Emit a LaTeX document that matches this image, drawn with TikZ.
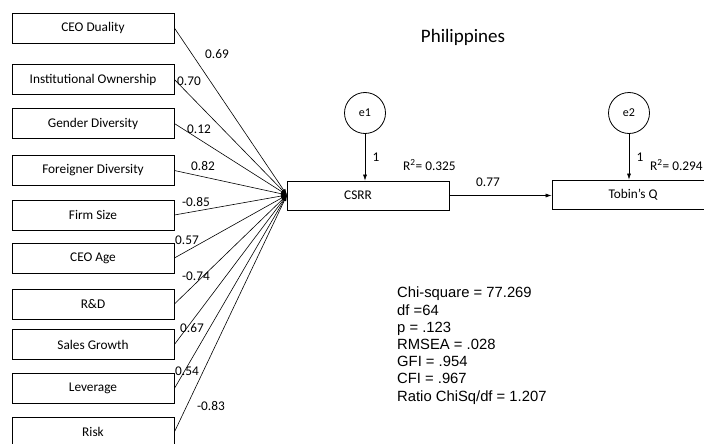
\documentclass[tikz,border=0pt]{standalone}
\usepackage{fontspec}
\setmainfont{Carlito}
\newfontfamily\statfont{Liberation Sans}
\usetikzlibrary{arrows.meta}
\begin{document}
\begin{tikzpicture}[x=1pt,y=-1pt,
  varbox/.style={draw,line width=0.8pt,minimum width=162pt,minimum height=30pt,inner sep=0pt,font=\fontsize{13.3}{15}\selectfont},
  errc/.style={draw,circle,line width=0.8pt,minimum size=41pt,inner sep=0pt,font=\fontsize{12}{14}\selectfont},
  lbl/.style={inner sep=0pt,font=\fontsize{13.3}{15}\selectfont},
  path/.style={line width=0.6pt,-{Latex[length=6pt,width=4pt]}}]
\useasboundingbox (0,0) rectangle (704,444);
\clip (0,0) rectangle (704,444);
\fill[white] (0,0) rectangle (704,444);
% left variable boxes
\node[varbox] (v1) at (93,28) {CEO Duality};
\node[varbox] (v2) at (93,79.5) {Institutional Ownership};
\node[varbox] (v3) at (93,123.5) {Gender Diversity};
\node[varbox] (v4) at (93,170.5) {Foreigner Diversity};
\node[varbox] (v5) at (93,215) {Firm Size};
\node[varbox] (v6) at (93,258) {CEO Age};
\node[varbox] (v7) at (93,304) {R\&D};
\node[varbox] (v8) at (93,344.5) {Sales Growth};
\node[varbox] (v9) at (93,388.5) {Leverage};
\node[varbox] (v10) at (93,432) {Risk};
% outcome boxes
\node[draw,line width=0.8pt,minimum width=162pt,minimum height=29pt,inner sep=0pt] (csrr) at (368,195.5) {};
\node[lbl] (csrrt) at (358,195.5) {CSRR};
\node[draw,line width=0.8pt,minimum width=162pt,minimum height=29pt,inner sep=0pt] (tq) at (633,194.5) {};
\node[lbl] (tqt) at (633,194.5) {Tobin's Q};
\coordinate (conv) at (287,195);
% paths from predictors
\foreach \i in {1,...,10} \draw[path] (v\i.east) -- (conv);
% error terms
\node[errc] (e1) at (365,113) {e1};
\node[errc] (e2) at (629,113) {e2};
\draw[path] (e1.south) -- (e1.south |- csrr.north);
\draw[path] (e2.south) -- (e2.south |- tq.north);
\draw[path] (csrr.east) -- (tq.west |- csrr.east);
% labels
\node[inner sep=0pt,font=\fontsize{19}{22}\selectfont] (title) at (463,37) {Philippines};
\node[lbl] (c1) at (217,54) {0.69};
\node[lbl] (c2) at (189,81) {0.70};
\node[lbl] (c3) at (199,129) {0.12};
\node[lbl] (c4) at (203,166) {0.82};
\node[lbl] (c5) at (196,202) {-0.85};
\node[lbl] (c6) at (187,240) {0.57};
\node[lbl] (c7) at (196,276) {-0.74};
\node[lbl] (c8) at (192,328) {0.67};
\node[lbl] (c9) at (187,371) {0.54};
\node[lbl] (c10) at (211,406) {-0.83};
\node[lbl] (one1) at (376,157) {1};
\node[lbl] (one2) at (640,157) {1};
\node[lbl,anchor=west] (r1) at (403,165) {R\textsuperscript{2}= 0.325};
\node[lbl,anchor=west] (r2) at (650,165) {R\textsuperscript{2}= 0.294};
\node[lbl] (b77) at (488,182) {0.77};
% fit statistics
\node[anchor=north west,inner sep=0pt,align=left,font=\statfont\fontsize{14.8}{17.2}\selectfont] (stats) at (397,287)
{Chi-square = 77.269\\df =64\\p = .123\\RMSEA = .028\\GFI = .954\\CFI = .967\\Ratio ChiSq/df = 1.207};
\end{tikzpicture}
\end{document}
